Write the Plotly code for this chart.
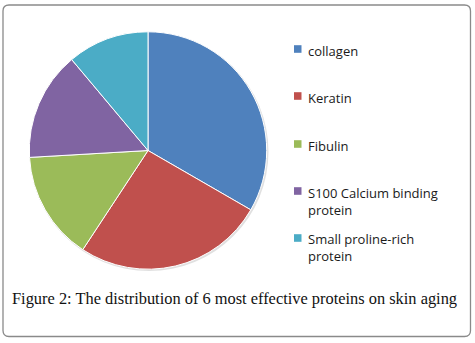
import plotly.graph_objects as go

# Protein counts by category
proteins = ["collagen", "Keratin", "Fibulin", "S100 Calcium binding<br>protein", "Small proline-rich<br>protein"]
counts = [9, 7, 4, 4, 3]
colors = ["#4F81BD", "#C0504D", "#9BBB59", "#8064A2", "#4BACC6"]
caption = "Figure 2: The distribution of 6 most effective proteins on skin aging"

W, H = 475, 343

def px(x):
    return x / W

def py(y):
    return 1 - y / H

fig = go.Figure(go.Pie(
    labels=[p.replace("<br>", " ") for p in proteins],
    values=counts,
    marker=dict(colors=colors, line=dict(color="white", width=1)),
    sort=False,
    direction="clockwise",
    rotation=0,
    textinfo="none",
    showlegend=False,
    domain=dict(x=[px(29.3), px(266.7)], y=[py(269.2), py(31.8)]),
))

shapes = []
# soft shadow behind the pie
shapes.append(dict(type="circle", xref="paper", yref="paper", layer="below",
                   x0=px(29.5), x1=px(268.5), y0=py(271), y1=py(32.5),
                   fillcolor="rgba(0,0,0,0.12)", line=dict(width=0)))

# rounded frame
x0, x1, y0, y1, r = 3, 470.5, 5, 336.5, 6
path = (f"M {px(x0 + r)},{py(y0)} L {px(x1 - r)},{py(y0)} "
        f"Q {px(x1)},{py(y0)} {px(x1)},{py(y0 + r)} "
        f"L {px(x1)},{py(y1 - r)} Q {px(x1)},{py(y1)} {px(x1 - r)},{py(y1)} "
        f"L {px(x0 + r)},{py(y1)} Q {px(x0)},{py(y1)} {px(x0)},{py(y1 - r)} "
        f"L {px(x0)},{py(y0 + r)} Q {px(x0)},{py(y0)} {px(x0 + r)},{py(y0)} Z")
shapes.append(dict(type="path", path=path, xref="paper", yref="paper",
                   line=dict(color="#8a8a8a", width=1.3)))

annotations = []
legend_y = [49, 96, 144, 191, 238]
for name, col, yy in zip(proteins, colors, legend_y):
    shapes.append(dict(type="rect", xref="paper", yref="paper",
                       x0=px(294), x1=px(301.5), y0=py(yy + 3.8), y1=py(yy - 3.8),
                       fillcolor=col, line=dict(width=0)))
    annotations.append(dict(text=name, xref="paper", yref="paper",
                            x=px(306), y=py(yy - 9.5), xanchor="left", yanchor="top",
                            showarrow=False, align="left",
                            font=dict(family="Open Sans", size=13, color="#1a1a1a")))

annotations.append(dict(text=caption, xref="paper", yref="paper",
                        x=px(10), y=py(298), xanchor="left", yanchor="middle",
                        showarrow=False,
                        font=dict(family="Liberation Serif", size=16.4, color="#111111")))

fig.update_layout(
    width=W, height=H,
    margin=dict(l=0, r=0, t=0, b=0),
    paper_bgcolor="white",
    shapes=shapes,
    annotations=annotations,
)

fig.write_html("out.html", config={"displayModeBar": False})
